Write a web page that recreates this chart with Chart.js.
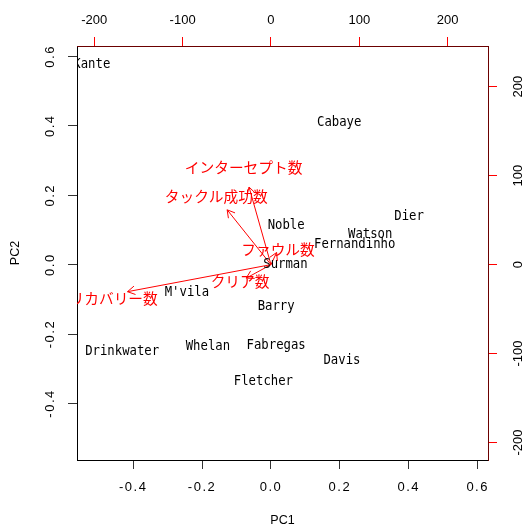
<!DOCTYPE html>
<html><head><meta charset="utf-8">
<script src="https://cdn.jsdelivr.net/npm/chart.js@4/dist/chart.umd.min.js"></script>
<style>html,body{margin:0;padding:0;background:#fff}canvas{display:block}</style>
</head><body>
<canvas id="c" width="526" height="526"></canvas>
<script>
// ---- data ----
const players = ["Kante","Cabaye","Dier","Watson","Fernandinho","Noble","Surman","Barry","M'vila","Drinkwater","Whelan","Fabregas","Fletcher","Davis"];
const pc1 = [-0.520, 0.198, 0.401, 0.288, 0.243, 0.044, 0.042, 0.015, -0.244, -0.432, -0.183, 0.015, -0.022, 0.206];
const pc2 = [ 0.576, 0.409, 0.139, 0.088, 0.059, 0.113, -0.001, -0.122, -0.079, -0.249, -0.235, -0.232, -0.338, -0.275];
const variables = ["インターセプト数","タックル成功数","ファウル数","クリア数","ボールリカバリー数"];
const load1 = [-31, -62, 8, -35, -203];
const load2 = [109, 77, 17, -19, -38];
const pcTicks = [-0.4, -0.2, 0.0, 0.2, 0.4, 0.6];
const loadTicks = [-200, -100, 0, 100, 200];

// ---- drawing config ----
const arrowScale = 0.8;      // biplot arrows drawn to 0.8 of loading, labels at loading
const RATIO = 390;           // secondary axis scale factor
const LIM = [-0.563, 0.630];

function txt(ctx, s, x, y, font, color, opts) {
  opts = opts || {};
  ctx.save();
  ctx.translate(x, y);
  if (opts.rot) ctx.rotate(opts.rot);
  ctx.scale(opts.sx || 1, 1);
  ctx.font = font;
  ctx.fillStyle = color;
  ctx.letterSpacing = opts.ls || '0px';
  ctx.textAlign = 'center';
  ctx.textBaseline = 'middle';
  ctx.fillText(s, 0, 0);
  ctx.restore();
}

const biplot = {
  id: 'biplot',
  afterDatasetsDraw(chart) {
    const ctx = chart.ctx, a = chart.chartArea;
    ctx.save();
    ctx.beginPath();
    ctx.rect(a.left, a.top, a.right - a.left, a.bottom - a.top);
    ctx.clip();
    chart.data.datasets.forEach((ds, i) => {
      const pts = chart.getDatasetMeta(i).data;
      if (ds.kind === 'players') {
        pts.forEach((p, j) => txt(ctx, players[j], p.x, p.y, '13.5px "DejaVu Sans Mono"', '#000', {sx: 0.91}));
      } else if (ds.kind === 'arrow') {
        const p0 = pts[0], p1 = pts[1];
        const ang = Math.atan2(p1.y - p0.y, p1.x - p0.x);
        const L = 8.5, A = Math.PI / 6;
        ctx.strokeStyle = '#ff0000';
        ctx.lineWidth = 1;
        ctx.beginPath();
        ctx.moveTo(p1.x - L * Math.cos(ang - A), p1.y - L * Math.sin(ang - A));
        ctx.lineTo(p1.x, p1.y);
        ctx.lineTo(p1.x - L * Math.cos(ang + A), p1.y - L * Math.sin(ang + A));
        ctx.stroke();
      }
    });
    chart.data.datasets.forEach((ds, i) => {
      if (ds.kind !== 'varlabels') return;
      chart.getDatasetMeta(i).data.forEach((p, j) =>
        txt(ctx, variables[j], p.x, p.y, '14.7px "Noto Sans CJK JP"', '#ff0000'));
    });
    ctx.restore();

    // tick labels
    const f = '13px "Liberation Sans"';
    const sx = chart.scales.x, sy = chart.scales.y, sx2 = chart.scales.x2, sy2 = chart.scales.y2;
    sx.ticks.forEach(t => txt(ctx, t.value.toFixed(1), sx.getPixelForValue(t.value), 487.5, f, '#000', {ls: '1.5px'}));
    sy.ticks.forEach(t => txt(ctx, t.value.toFixed(1), 50, sy.getPixelForValue(t.value), f, '#000', {ls: '1.5px', rot: -Math.PI / 2}));
    sx2.ticks.forEach(t => txt(ctx, String(t.value), sx2.getPixelForValue(t.value), 20.5, f, '#000'));
    sy2.ticks.forEach(t => txt(ctx, String(t.value), 518, sy2.getPixelForValue(t.value), f, '#000', {rot: -Math.PI / 2}));
    // axis titles
    txt(ctx, 'PC1', (a.left + a.right) / 2, 521, '12.5px "Liberation Sans"', '#000');
    txt(ctx, 'PC2', 15.5, (a.top + a.bottom) / 2, '12.5px "Liberation Sans"', '#000', {rot: -Math.PI / 2});
  }
};

const datasets = [
  {kind: 'players', data: players.map((p, i) => ({x: pc1[i], y: pc2[i]})), xAxisID: 'x', yAxisID: 'y', pointRadius: 0, showLine: false}
].concat(variables.map((v, i) => ({
  kind: 'arrow', data: [{x: 0, y: 0}, {x: load1[i] * arrowScale, y: load2[i] * arrowScale}],
  xAxisID: 'x2', yAxisID: 'y2', showLine: true, borderColor: '#ff0000', borderWidth: 1, pointRadius: 0
}))).concat([
  {kind: 'varlabels', data: variables.map((v, i) => ({x: load1[i], y: load2[i]})), xAxisID: 'x2', yAxisID: 'y2', pointRadius: 0, showLine: false}
]);

function axis(pos, min, max, tickVals, color, borderColor, size) {
  const horiz = pos === 'top' || pos === 'bottom';
  return {
    type: 'linear', position: pos, axis: horiz ? 'x' : 'y', min: min, max: max,
    afterBuildTicks: s => { s.ticks = tickVals.map(v => ({value: v})); },
    afterFit: s => { if (horiz) s.height = size; else s.width = size; },
    ticks: {display: false},
    grid: {drawOnChartArea: false, drawTicks: true, tickLength: 9, color: color, lineWidth: 1},
    border: {display: true, color: borderColor, width: 1}
  };
}

new Chart(document.getElementById('c'), {
  type: 'scatter',
  data: {datasets: datasets},
  options: {
    responsive: false, devicePixelRatio: 1, animation: false, events: [],
    layout: {padding: 0, autoPadding: false},
    plugins: {legend: {display: false}, tooltip: {enabled: false}},
    scales: {
      x: axis('bottom', LIM[0], LIM[1], pcTicks, '#333', '#000', 66),
      y: axis('left', LIM[0], LIM[1], pcTicks, '#333', '#000', 77),
      x2: axis('top', LIM[0] * RATIO, LIM[1] * RATIO, loadTicks, '#ff0000', '#6b0000', 46),
      y2: axis('right', LIM[0] * RATIO, LIM[1] * RATIO, loadTicks, '#ff0000', '#6b0000', 38)
    }
  },
  plugins: [biplot]
});
</script>
</body></html>
